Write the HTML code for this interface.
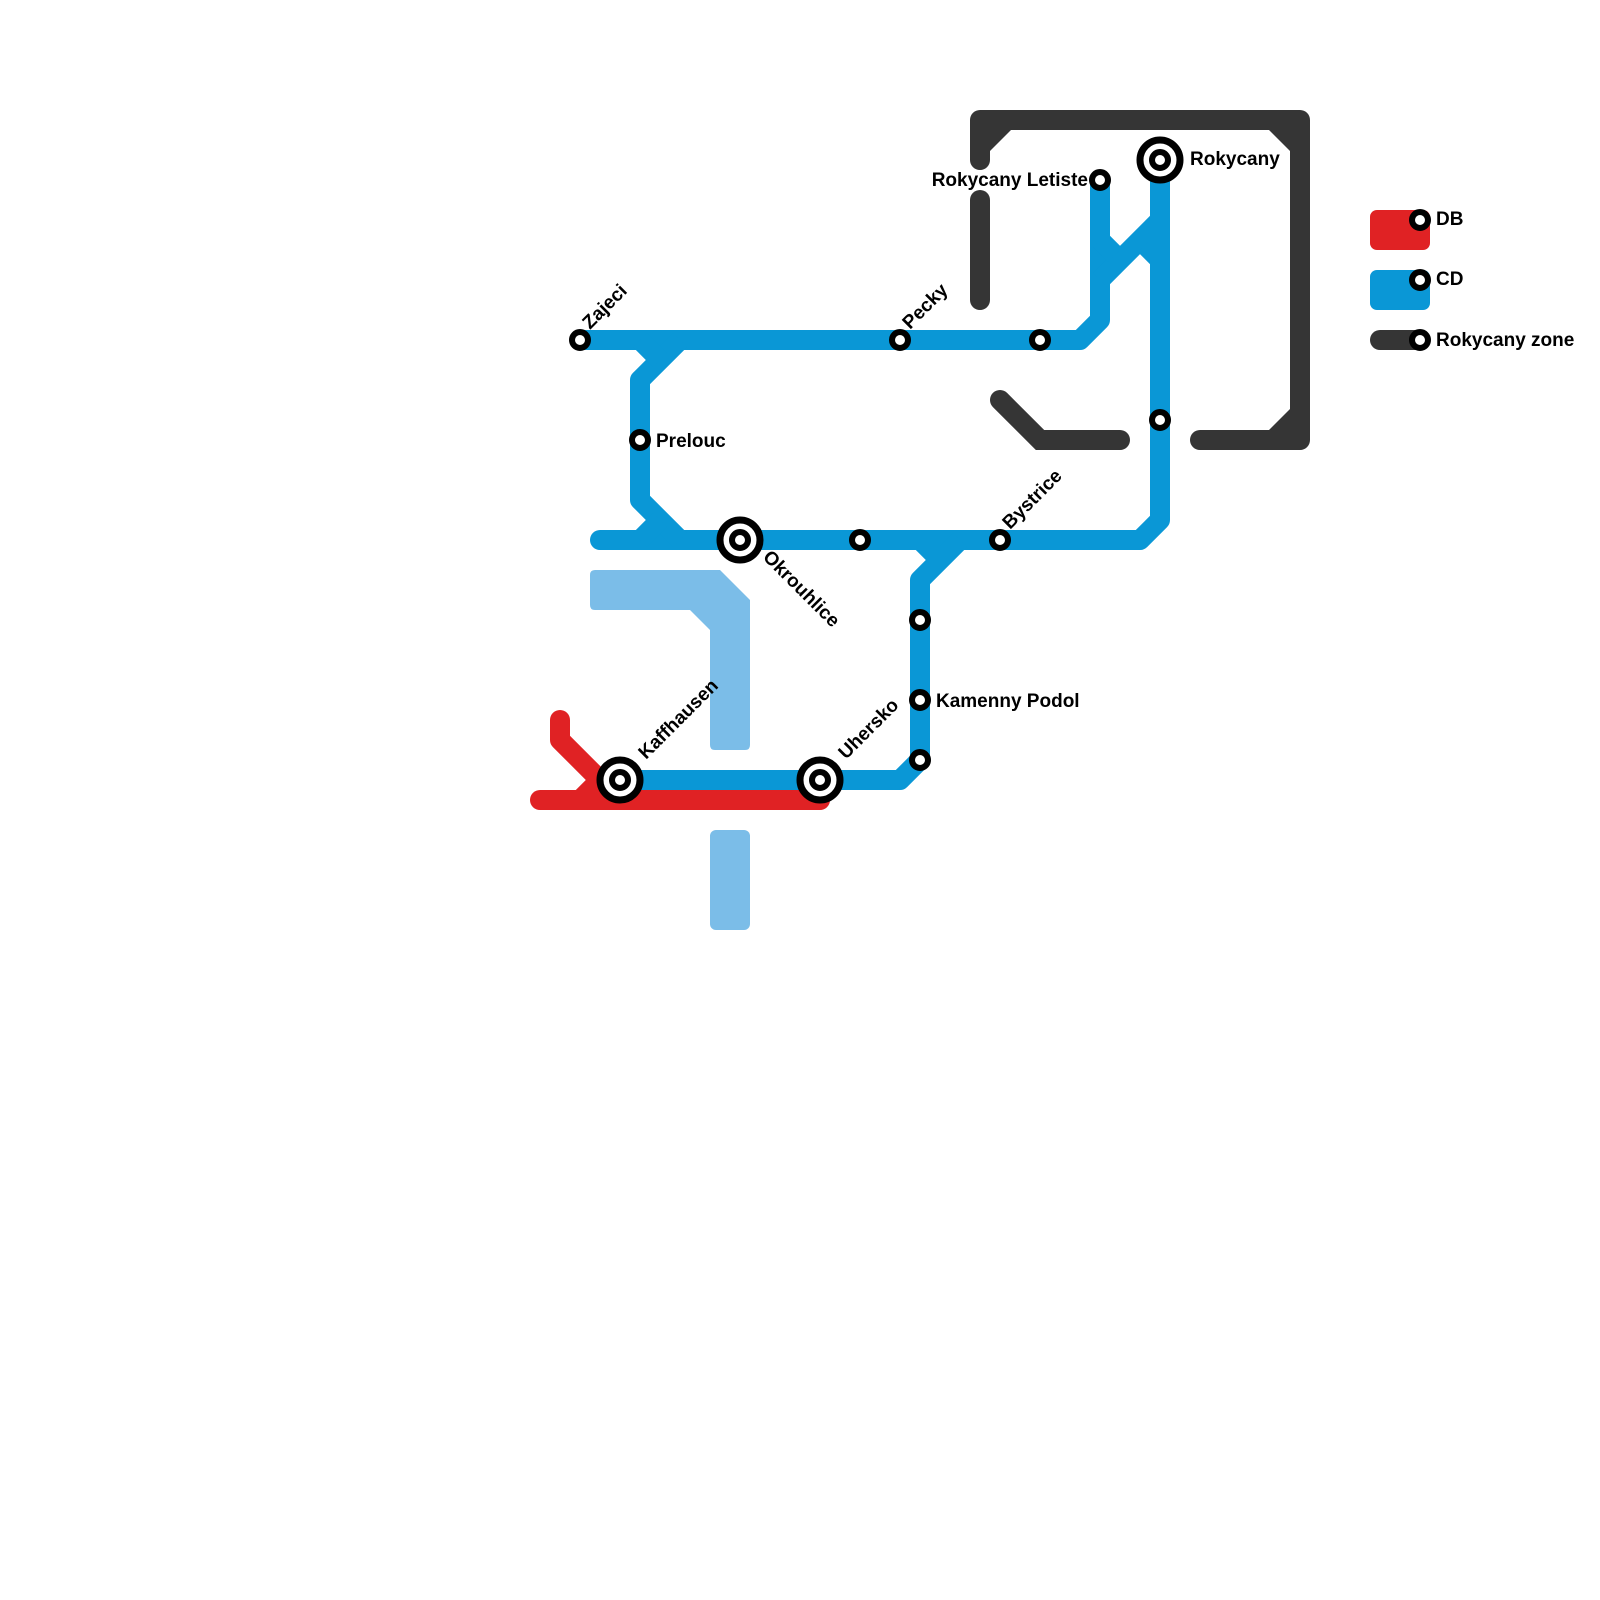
<!DOCTYPE html>
<html><head><meta charset="utf-8"><style>body{margin:0;background:#fff}svg{display:block}text{font-family:"Liberation Sans",sans-serif;font-weight:bold;font-size:19px;fill:#000}</style></head>
<body>
<svg width="1600" height="1600" viewBox="0 0 1600 1600" xmlns="http://www.w3.org/2000/svg">
<g fill="#7bbde8">
<path d="M595,570 H720 L750,600 V745 Q750,750 745,750 H715 Q710,750 710,745 V630 L690,610 H595 Q590,610 590,605 V575 Q590,570 595,570 Z"/>
<rect x="710" y="830" width="40" height="100" rx="6"/>
</g>
<g fill="none" stroke-width="20">
<g stroke="#e02224" stroke-linecap="round" stroke-linejoin="round">
<path d="M560,720 V740 L600,780"/>
<path d="M540,800 H820"/>
<path d="M580,800 L600,780" stroke-linecap="butt"/>
</g>
<g stroke="#0a97d6" stroke-linejoin="round">
<path d="M580,340 H1080 L1100,320 V180"/>
<path d="M1100,280 L1160,220"/>
<path d="M1100,240 L1115,255 M1160,260 L1145,245"/>
<path d="M1160,160 V520 L1140,540 H600" stroke-linecap="round"/>
<path d="M680,340 L640,380 V500 L680,540"/>
<path d="M640,340 L660,360 M640,540 L660,520"/>
<path d="M960,540 L920,580 V760 L900,780 H620"/>
<path d="M920,540 L940,560"/>
</g>
<g stroke="#353535" stroke-linecap="round">
<path d="M980,160 V120 H1300 V440 H1200" stroke-linejoin="round"/>
<path d="M980,200 V300"/>
<path d="M1000,400 L1040,440 H1120"/>
<path d="M1380,340 H1420"/>
</g>
</g>
<g fill="#353535">
<polygon points="989,129 1012,129 989,152"/>
<polygon points="1291,129 1268,129 1291,152"/>
<polygon points="1291,431 1291,408 1268,431"/>
</g>
<rect x="1370" y="210" width="60" height="40" rx="7" fill="#e02224"/>
<rect x="1370" y="270" width="60" height="40" rx="7" fill="#0a97d6"/>
<g fill="#fff" stroke="#000" stroke-width="6">
<circle cx="580" cy="340" r="8"/>
<circle cx="900" cy="340" r="8"/>
<circle cx="1040" cy="340" r="8"/>
<circle cx="1100" cy="180" r="8"/>
<circle cx="1160" cy="420" r="8"/>
<circle cx="640" cy="440" r="8"/>
<circle cx="860" cy="540" r="8"/>
<circle cx="1000" cy="540" r="8"/>
<circle cx="920" cy="620" r="8"/>
<circle cx="920" cy="700" r="8"/>
<circle cx="920" cy="760" r="8"/>
<circle cx="1420" cy="220" r="8"/>
<circle cx="1420" cy="280" r="8"/>
<circle cx="1420" cy="340" r="8"/>
</g>
<g fill="#fff" stroke="#000">
<circle cx="1160" cy="160" r="20" stroke-width="7"/><circle cx="1160" cy="160" r="8" stroke-width="6"/>
<circle cx="740" cy="540" r="20" stroke-width="7"/><circle cx="740" cy="540" r="8" stroke-width="6"/>
<circle cx="620" cy="780" r="20" stroke-width="7"/><circle cx="620" cy="780" r="8" stroke-width="6"/>
<circle cx="820" cy="780" r="20" stroke-width="7"/><circle cx="820" cy="780" r="8" stroke-width="6"/>
</g>
<text transform="translate(590,330) rotate(-45)">Zajeci</text>
<text transform="translate(910,330) rotate(-45)">Pecky</text>
<text transform="translate(1010,530) rotate(-45)">Bystrice</text>
<text transform="translate(646,760) rotate(-45)">Kaffhausen</text>
<text transform="translate(846,760) rotate(-45)">Uhersko</text>
<text transform="translate(762,558) rotate(45)">Okrouhlice</text>
<text x="656" y="447">Prelouc</text>
<text x="936" y="707">Kamenny Podol</text>
<text x="1088" y="186" text-anchor="end">Rokycany Letiste</text>
<text x="1190" y="165">Rokycany</text>
<text x="1436" y="225">DB</text>
<text x="1436" y="285">CD</text>
<text x="1436" y="346">Rokycany zone</text>
</svg>
</body></html>
